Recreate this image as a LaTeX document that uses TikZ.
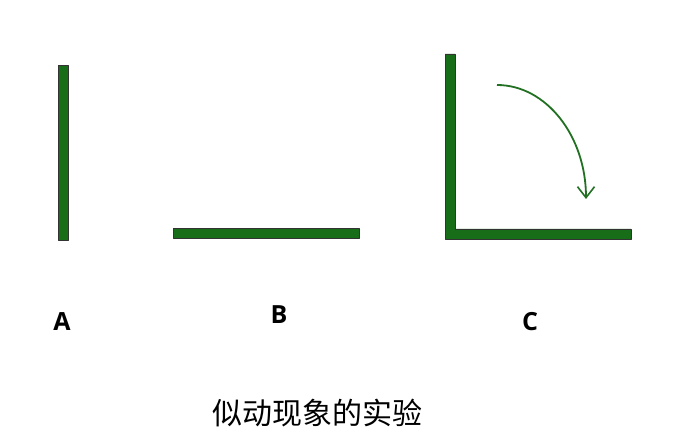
\documentclass[tikz,border=0pt]{standalone}
\usepackage{fontspec}
\setmainfont{Open Sans}
\newfontfamily\cjk{Noto Sans CJK SC}
\usetikzlibrary{arrows.meta}
\definecolor{rodgreen}{RGB}{24,110,24}
\definecolor{arrowgreen}{RGB}{34,112,34}
\begin{document}
\begin{tikzpicture}[x=1pt,y=1pt,line join=round,
		rod/.style={fill=rodgreen,draw=black!80,line width=0.8pt},
		lbl/.style={font=\fontsize{25}{28}\selectfont\bfseries},
		turn/.style={draw=arrowgreen,line width=1.8pt,-{Straight Barb[length=11pt,width=17pt,line width=1.6pt]}}]
			\def\w{10}
			\useasboundingbox (0,0) rectangle (673,445);
			% A : upright rod
			\draw[rod] (58,205) rectangle ++(\w,175);
			% B : lying rod
			\draw[rod] (173,207) rectangle ++(186,\w);
			% C : both at once
			\draw[rod] (445,206)--(631,206)--(631,216)--(455,216)--(455,391)--(445,391)--cycle;
			\draw[turn] (497,360) arc[start angle=90,end angle=0,x radius=89,y radius=114];
			\node[lbl] (labA) at (62,123) {A};
			\node[lbl] (labB) at (279,130) {B};
			\node[lbl] (labC) at (530,123) {C};
			\node[font=\cjk\fontsize{30}{34}\selectfont] (title) at (317,32) {似动现象的实验};
		\end{tikzpicture}
\end{document}
